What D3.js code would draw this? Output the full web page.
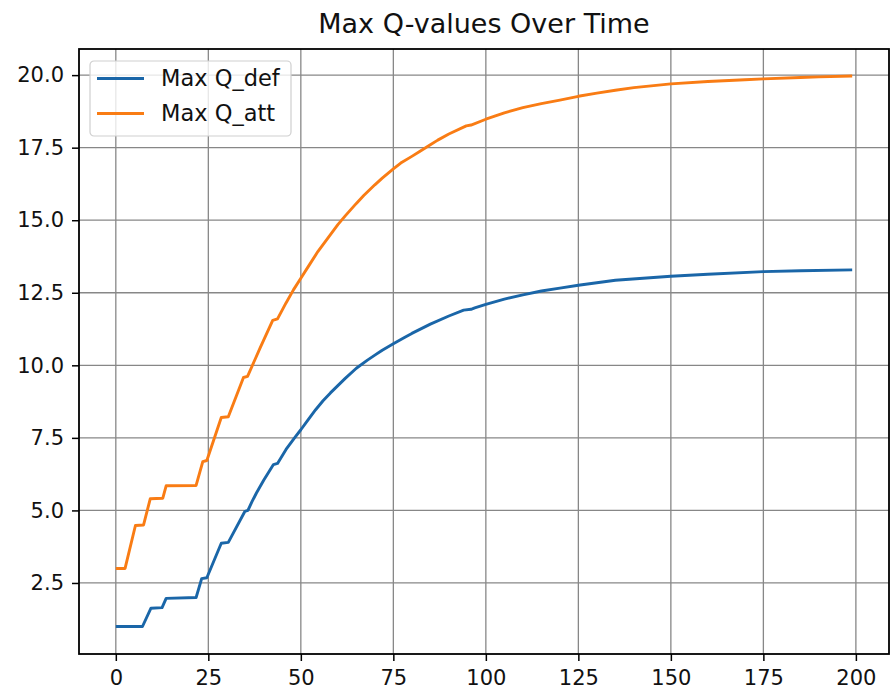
<!DOCTYPE html>
<html>
<head>
<meta charset="utf-8">
<script src="https://cdn.jsdelivr.net/npm/d3@7"></script>
<style>
  body { margin: 0; background: #fff; }
  svg { display: block; font-family: "DejaVu Sans", sans-serif; }
</style>
</head>
<body>
<div id="chart"></div>
<script>
// values
var defX = [0, 7.2, 9.5, 12.5, 13.6, 21.7, 23.2, 24.6, 28.5, 30.4, 34.9, 35.7, 36.8, 38, 40, 42.6, 43.7, 46, 48.3, 50, 52, 54, 56, 58, 60, 62, 65, 68, 70, 72, 75, 78, 80, 85, 90, 94, 96, 97, 100, 105, 110, 115, 120, 125, 135, 150, 160, 175, 185, 199];
var defY = [1.0, 1.0, 1.63, 1.65, 1.97, 2.0, 2.65, 2.68, 3.87, 3.9, 4.97, 5.0, 5.3, 5.6, 6.05, 6.58, 6.62, 7.1, 7.5, 7.78, 8.13, 8.47, 8.78, 9.05, 9.3, 9.55, 9.9, 10.18, 10.35, 10.52, 10.74, 10.96, 11.1, 11.42, 11.7, 11.9, 11.93, 11.98, 12.1, 12.28, 12.43, 12.56, 12.66, 12.76, 12.93, 13.07, 13.14, 13.23, 13.26, 13.29];
var attX = [0, 2.5, 5.3, 7.5, 9.3, 12.7, 13.6, 21.7, 23.5, 24.6, 28.5, 30.4, 34.5, 35.6, 39, 42.4, 43.7, 46, 48, 50, 52, 54.6, 57.7, 60, 62, 65, 67, 70, 72, 75, 77, 80, 82, 85, 87, 90, 94.7, 96, 100, 105, 110, 115, 120, 125, 130, 135, 140, 150, 160, 170, 175, 185, 190, 199];
var attY = [3.0, 3.0, 4.48, 4.5, 5.4, 5.42, 5.85, 5.86, 6.68, 6.72, 8.2, 8.23, 9.58, 9.62, 10.6, 11.55, 11.6, 12.15, 12.6, 13.0, 13.4, 13.92, 14.45, 14.85, 15.15, 15.58, 15.85, 16.22, 16.45, 16.77, 16.97, 17.2, 17.36, 17.6, 17.76, 17.97, 18.25, 18.28, 18.48, 18.7, 18.88, 19.02, 19.14, 19.27, 19.38, 19.48, 19.57, 19.7, 19.78, 19.84, 19.87, 19.92, 19.94, 19.97];
var xTicks = [0, 25, 50, 75, 100, 125, 150, 175, 200];
var yTicks = [2.5, 5.0, 7.5, 10.0, 12.5, 15.0, 17.5, 20.0];
var seriesNames = ["Max Q_def", "Max Q_att"];
var seriesColors = ["#1a66a8", "#f97c14"];

var width = 892, height = 691,
  margin = {top: 49, right: 3, bottom: 37, left: 79};

var svg = d3.select('#chart').append('svg')
  .attr('width', width).attr('height', height);

var x = d3.scaleLinear().domain([-9.95, 208.95]).range([margin.left, width - margin.right]);
var y = d3.scaleLinear().domain([0.0525, 20.9]).range([height - margin.bottom, margin.top]);

// grid
var grid = svg.append('g').attr('class', 'grid');
grid.selectAll('line.vx').data(xTicks).enter().append('line')
  .attr('x1', d => x(d)).attr('x2', d => x(d))
  .attr('y1', y.range()[0]).attr('y2', y.range()[1])
  .attr('stroke', '#878787').attr('stroke-width', 1.3);
grid.selectAll('line.hy').data(yTicks).enter().append('line')
  .attr('y1', d => y(d)).attr('y2', d => y(d))
  .attr('x1', x.range()[0]).attr('x2', x.range()[1])
  .attr('stroke', '#878787').attr('stroke-width', 1.3);

// axes
var xAxis = svg.append('g')
  .attr('transform', 'translate(0,' + (height - margin.bottom) + ')')
  .call(d3.axisBottom(x).tickValues(xTicks).tickFormat(d3.format('d')).tickSize(7).tickPadding(9));
var yAxis = svg.append('g')
  .attr('transform', 'translate(' + margin.left + ',0)')
  .call(d3.axisLeft(y).tickValues(yTicks).tickFormat(d3.format('.1f')).tickSize(7).tickPadding(8));
[xAxis, yAxis].forEach(function(a){
  a.select('.domain').remove();
  a.selectAll('text').attr('font-size', 21).attr('fill', '#111').attr('font-family', '"DejaVu Sans", sans-serif');
  a.selectAll('line').attr('stroke', '#000').attr('stroke-width', 1.5);
});

// lines
var line = d3.line().x(d => x(d[0])).y(d => y(d[1]));
var series = [d3.zip(defX, defY), d3.zip(attX, attY)];
svg.selectAll('path.series').data(series).enter().append('path')
  .attr('class', 'series')
  .attr('d', line)
  .attr('fill', 'none')
  .attr('stroke', (d, i) => seriesColors[i])
  .attr('stroke-width', 2.9)
  .attr('stroke-linejoin', 'round');

// frame
svg.append('rect')
  .attr('x', x.range()[0]).attr('y', y.range()[1])
  .attr('width', x.range()[1] - x.range()[0])
  .attr('height', y.range()[0] - y.range()[1])
  .attr('fill', 'none').attr('stroke', '#000').attr('stroke-width', 1.8);

// title
svg.append('text')
  .attr('x', (x.range()[0] + x.range()[1]) / 2).attr('y', 33)
  .attr('text-anchor', 'middle').attr('font-size', 27).attr('fill', '#111')
  .text('Max Q-values Over Time');

// legend
var lg = svg.append('g').attr('transform', 'translate(90,61)');
lg.append('rect').attr('width', 201).attr('height', 75).attr('rx', 4)
  .attr('fill', 'rgba(255,255,255,0.8)').attr('stroke', '#cfcfcf').attr('stroke-width', 1.2);
var items = lg.selectAll('g.item').data(seriesNames).enter().append('g')
  .attr('transform', (d, i) => 'translate(0,' + (17.5 + i * 35) + ')');
items.append('line').attr('x1', 7).attr('x2', 54)
  .attr('stroke', (d, i) => seriesColors[i]).attr('stroke-width', 2.9);
items.append('text').attr('x', 71).attr('dy', '0.35em')
  .attr('font-size', 22.5).attr('fill', '#111').text(d => d);
</script>
</body>
</html>
